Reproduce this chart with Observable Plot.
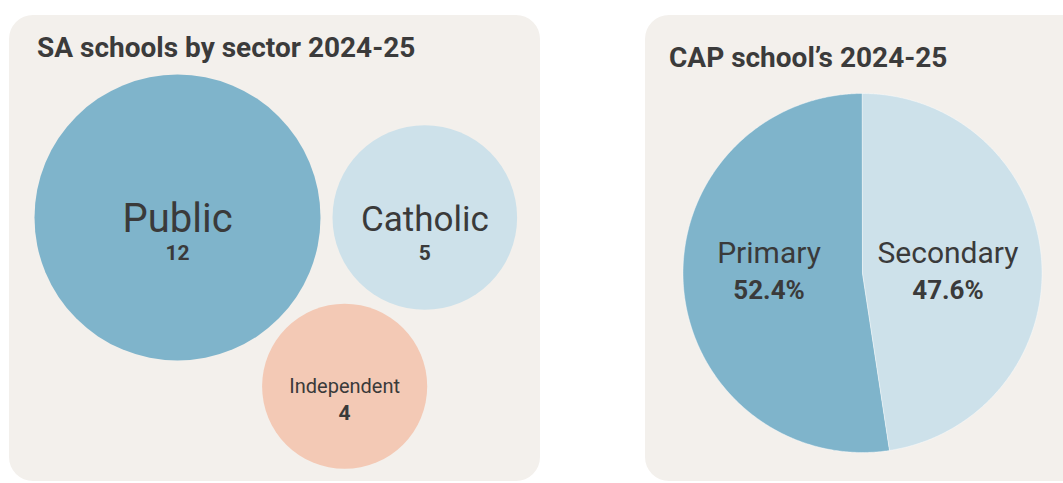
<!DOCTYPE html>
<html><head><meta charset="utf-8">
<script src="https://cdn.jsdelivr.net/npm/d3@7"></script>
<script src="https://cdn.jsdelivr.net/npm/@observablehq/plot@0.6"></script>
<style>
html,body{margin:0;padding:0;background:#fff;width:1063px;height:483px;overflow:hidden;font-family:Roboto,sans-serif;}
.panel{position:absolute;background:#f3f0ec;border-radius:24px;}
.title{position:absolute;font-weight:700;font-size:28px;line-height:28px;color:#3b3b3b;white-space:nowrap;font-family:Roboto,sans-serif;}
.layer{position:absolute;left:0;top:0;}
</style></head><body>
<div class="panel" style="left:9px;top:15px;width:531px;height:466px"></div>
<div class="panel" style="left:645px;top:15px;width:450px;height:466px"></div>
<div class="title" style="left:37px;top:34px">SA schools by sector 2024-25</div>
<div class="title" style="left:669px;top:44px">CAP school’s 2024-25</div>
<div id="bubbles" class="layer"></div>
<div id="pie" class="layer"></div>
<script>
// ---- data ----
const sectors = ["Public", "Catholic", "Independent"];
const schoolCounts = [12, 5, 4];
const levels = ["Primary", "Secondary"];
const levelShares = [52.4, 47.6];

// ---- styles ----
const palette = {Public: "#7fb4cb", Catholic: "#cde1ea", Independent: "#f3c9b5", Primary: "#7fb4cb", Secondary: "#cde1ea"};
const ink = "#3a3a3a";
const bubbleLabel = {
  Public: {size: 40, nameDy: 14, valueDy: 42},
  Catholic: {size: 35, nameDy: 13, valueDy: 42},
  Independent: {size: 20, nameDy: 7, valueDy: 34}
};

// ---- bubbles ----
const maxR = 143, gap = 12, bubbleLeft = 34, bubbleTop = 74;
const rScale = d3.scaleSqrt().domain([0, d3.max(schoolCounts)]).range([0, maxR]);
const nodes = sectors.map((name, i) => ({name, value: schoolCounts[i], r: rScale(schoolCounts[i]) + gap / 2}));
d3.packSiblings(nodes);
const bx0 = d3.min(nodes, d => d.x - rScale(d.value)), bx1 = d3.max(nodes, d => d.x + rScale(d.value));
const by0 = d3.min(nodes, d => d.y - rScale(d.value)), by1 = d3.max(nodes, d => d.y + rScale(d.value));

const bubbles = Plot.plot({
  width: 1063, height: 483, margin: 0,
  style: {background: "transparent", overflow: "visible", fontFamily: "Roboto, sans-serif"},
  x: {domain: [bx0, bx1], range: [bubbleLeft, bubbleLeft + bx1 - bx0], axis: null},
  y: {domain: [by0, by1], range: [bubbleTop, bubbleTop + by1 - by0], axis: null},
  r: {domain: [0, d3.max(schoolCounts)], range: [0, maxR]},
  color: {domain: sectors, range: sectors.map(s => palette[s])},
  marks: [
    Plot.dot(nodes, {x: "x", y: "y", r: "value", fill: "name"}),
    Plot.text(nodes, {x: "x", y: d => d.y + bubbleLabel[d.name].nameDy, text: "name",
      fontSize: d => bubbleLabel[d.name].size, lineAnchor: "bottom", fill: ink}),
    Plot.text(nodes, {x: "x", y: d => d.y + bubbleLabel[d.name].valueDy, text: d => String(d.value),
      fontSize: 21, fontWeight: "bold", lineAnchor: "bottom", fill: ink})
  ]
});
document.getElementById("bubbles").append(bubbles);

// ---- pie ----
const pieGen = d3.pie().sort(null).startAngle(0).endAngle(-2 * Math.PI);
const arcs = pieGen(levelShares);
const step = Math.PI / 360;
const slices = {type: "FeatureCollection", features: arcs.map((a, i) => {
  const n = Math.max(2, Math.ceil(Math.abs(a.endAngle - a.startAngle) / step));
  const ring = [[0, 0]];
  for (let k = 0; k <= n; k++) {
    const t = a.startAngle + (a.endAngle - a.startAngle) * k / n;
    ring.push([Math.sin(t), Math.cos(t)]);
  }
  ring.push([0, 0]);
  return {type: "Feature", properties: {name: levels[i]}, geometry: {type: "Polygon", coordinates: [ring]}};
})};
const pieLabels = arcs.map((a, i) => {
  const mid = (a.startAngle + a.endAngle) / 2;
  return {name: levels[i], share: levelShares[i], x: 0.5 * Math.sin(mid), y: 0};
});

const pie = Plot.plot({
  width: 1063, height: 483,
  marginLeft: 682, marginRight: 21, marginTop: 93, marginBottom: 31,
  style: {background: "transparent", overflow: "visible", fontFamily: "Roboto, sans-serif"},
  projection: {type: "reflect-y", domain: slices},
  color: {domain: levels, range: levels.map(s => palette[s])},
  marks: [
    Plot.geo(slices.features, {fill: d => d.properties.name, stroke: "#ffffff", strokeWidth: 0.8, strokeOpacity: 0.5}),
    Plot.text(pieLabels, {x: "x", y: "y", text: "name", fontSize: 30, dx: -4, dy: -10, lineAnchor: "bottom", fill: ink}),
    Plot.text(pieLabels, {x: "x", y: "y", text: d => d.share.toFixed(1) + "%", fontSize: 26, fontWeight: "bold", dx: -4, dy: 26, lineAnchor: "bottom", fill: ink})
  ]
});
document.getElementById("pie").append(pie);
</script>
</body></html>
